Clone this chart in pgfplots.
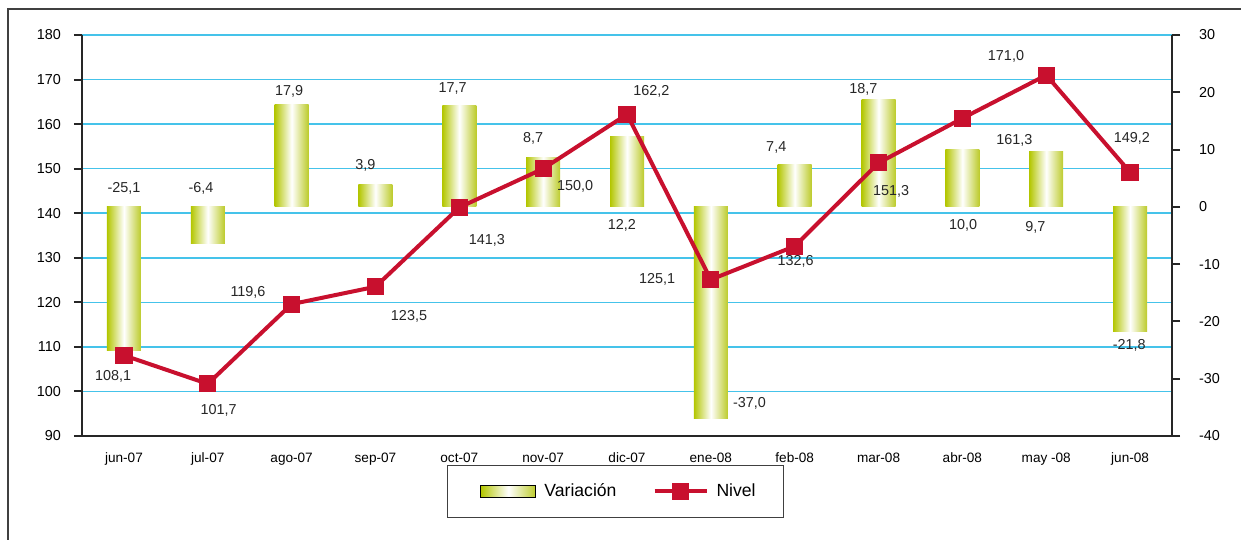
\documentclass[border=0pt]{standalone}
\usepackage{pgfplots}
\pgfplotsset{compat=1.18}
\usepackage{fontspec}
\setmainfont{Liberation Sans}
\definecolor{gridblue}{HTML}{45C3EA}
\definecolor{barg}{HTML}{B3C600}
\definecolor{barg2}{HTML}{BCCB2A}
\definecolor{linered}{HTML}{C8102E}
\pgfplotsset{
  common/.style={
    scale only axis, width=545pt, height=200.5pt,
    xmin=-0.5, xmax=12.5,
    at={(0,0)}, anchor=south west,
    /pgf/number format/assume math mode=true,
  },
  vbar/.style={ybar, bar width=17pt, bar shift=0pt, draw=none,
    left color=barg, right color=barg2, middle color=white},
}
\pgfplotstableread{
x niv
0 108.1
1 101.7
2 119.6
3 123.5
4 141.3
5 150.0
6 162.2
7 125.1
8 132.6
9 151.3
10 161.3
11 171.0
12 149.2
}\nivtab
\begin{document}
\begin{tikzpicture}
\path[use as bounding box] (-41pt,-52pt) rectangle (579.5pt,218pt);
\draw[black!75, line width=0.8pt] (-37pt,-52pt) -- (-37pt,213.5pt) -- (579.5pt,213.5pt);
% base axis: grid, left axis, x axis
\begin{axis}[common,
  ymin=90, ymax=180, ytick={90,100,...,180},
  axis x line*=bottom, axis y line*=left,
  axis line style={black!85, line width=1pt},
  tick align=outside,
  ymajorgrids, grid style={gridblue, line width=0.8pt},
  major tick length=4pt,
  y tick style={black!85, line width=1pt},
  xtick={0,...,12},
  x tick style={draw=none},
  xticklabels={jun-07,jul-07,ago-07,sep-07,oct-07,nov-07,dic-07,ene-08,feb-08,mar-08,abr-08,may -08,jun-08},
  minor xtick={-0.5,0.5,...,12.5},
  minor x tick style={black!85, line width=1pt},
  minor tick length=4.5pt,
  x tick label style={font=\fontsize{6.8}{8}\selectfont, yshift=-1pt},
  y tick label style={font=\fontsize{7.2}{8.5}\selectfont, xshift=-3pt},
]
\end{axis}
% bars on right axis (Variación)
\begin{axis}[common,
  ymin=-40, ymax=30, ytick={-40,-30,...,30},
  axis x line=none, axis y line*=right,
  axis line style={black!85, line width=1pt},
  tick align=outside, major tick length=4pt,
  y tick style={black!85, line width=1pt},
  y tick label style={font=\fontsize{7.2}{8.5}\selectfont, xshift=6pt},
]
\addplot[vbar] coordinates {(0,-25.1)};
\addplot[vbar] coordinates {(1,-6.4)};
\addplot[vbar] coordinates {(2,17.9)};
\addplot[vbar] coordinates {(3,3.9)};
\addplot[vbar] coordinates {(4,17.7)};
\addplot[vbar] coordinates {(5,8.7)};
\addplot[vbar] coordinates {(6,12.2)};
\addplot[vbar] coordinates {(7,-37.0)};
\addplot[vbar] coordinates {(8,7.4)};
\addplot[vbar] coordinates {(9,18.7)};
\addplot[vbar] coordinates {(10,10.0)};
\addplot[vbar] coordinates {(11,9.7)};
\addplot[vbar] coordinates {(12,-21.8)};
\end{axis}
% line on left scale (Nivel)
\begin{axis}[common,
  ymin=90, ymax=180, hide axis, clip=false,
  legend columns=2,
  legend style={at={(0.4894,-0.1384)}, anchor=center, draw=black!75, line width=0.6pt,
    font=\fontsize{8.8}{10}\selectfont, inner xsep=12pt, inner ysep=7pt,
    /tikz/every odd column/.append style={column sep=2pt},
    /tikz/every even column/.append style={column sep=16pt}},
  legend cell align=left,
]
\addlegendimage{legend image code/.code={\path (0pt,0pt); \shade[left color=barg, right color=barg2, middle color=white] (4.5pt,-3pt) rectangle (32pt,3pt);}}
\addlegendentry{Variación}
\addplot[linered, line width=2pt, mark=square*, mark size=3.3pt, mark options={solid, fill=linered, draw=linered},
  legend image code/.code={\draw[linered, line width=2pt] (0pt,0pt) -- (26pt,0pt); \fill[linered] (9.7pt,-3.3pt) rectangle (16.3pt,3.3pt);}]
  table[x=x,y=niv]{\nivtab};
\addlegendentry{Nivel}
\begin{scope}[every node/.style={font=\fontsize{7.2}{8.5}\selectfont, text=black!85}]
% bar labels
\node at (axis cs:0,145.6) {-25,1};
\node at (axis cs:0.92,145.6) {-6,4};
\node at (axis cs:1.97,167.3) {17,9};
\node at (axis cs:2.88,150.8) {3,9};
\node at (axis cs:3.92,168.0) {17,7};
\node at (axis cs:4.88,156.8) {8,7};
\node at (axis cs:5.94,137.2) {12,2};
\node at (axis cs:7.46,97.3) {-37,0};
\node at (axis cs:7.78,154.8) {7,4};
\node at (axis cs:8.82,167.7) {18,7};
\node at (axis cs:10.01,137.2) {10,0};
\node at (axis cs:10.87,136.9) {9,7};
\node at (axis cs:11.99,110.4) {-21,8};
% line labels
\node at (axis cs:-0.13,103.3) {108,1};
\node at (axis cs:1.13,95.8) {101,7};
\node at (axis cs:1.48,122.3) {119,6};
\node at (axis cs:3.40,116.9) {123,5};
\node at (axis cs:4.33,134.0) {141,3};
\node at (axis cs:5.38,146.1) {150,0};
\node at (axis cs:6.29,167.3) {162,2};
\node at (axis cs:6.36,125.2) {125,1};
\node at (axis cs:8.01,129.1) {132,6};
\node at (axis cs:9.15,144.8) {151,3};
\node at (axis cs:10.62,156.3) {161,3};
\node at (axis cs:10.52,175.1) {171,0};
\node at (axis cs:12.02,156.8) {149,2};
\end{scope}
\end{axis}
\end{tikzpicture}
\end{document}
